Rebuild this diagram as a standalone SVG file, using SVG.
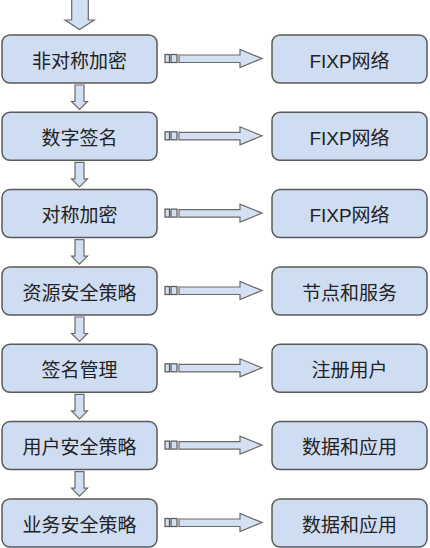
<svg xmlns="http://www.w3.org/2000/svg" width="430" height="548" viewBox="0 0 430 548">
<defs>
<style>
.box{fill:#cfddf2;stroke:#5a5a5a;stroke-width:1.5}
.arr{fill:#d3e0f3;stroke:#6a6a6a;stroke-width:1.2}
.sq{fill:#d3e0f3;stroke:#555;stroke-width:1.2}
text{font-family:"Liberation Sans","Noto Sans CJK SC",sans-serif;font-size:19px;fill:#222;text-anchor:middle;dominant-baseline:central}
</style>
<g id="harrow">
<rect class="sq" x="165" y="-4.5" width="4.5" height="8"/>
<rect class="sq" x="171" y="-4.5" width="6" height="8"/>
<path class="arr" d="M179,-4 H240 V-9.5 L262,-0.5 L240,8.5 V3.5 H179 Z"/>
</g>
<path id="varrow" class="arr" d="M75,0 H84 V16.5 H87.5 L79.5,24.5 L71.5,16.5 H75 Z"/>
</defs>
<g id="connectors">
<path class="arr" d="M71.7,-1 H88.3 V20 H94.3 L79.5,29.5 L65,20 H71.7 Z"/>
<use href="#varrow" y="85"/>
<use href="#varrow" y="162.3"/>
<use href="#varrow" y="239.6"/>
<use href="#varrow" y="317"/>
<use href="#varrow" y="394.3"/>
<use href="#varrow" y="471.6"/>
<use href="#harrow" y="59"/>
<use href="#harrow" y="136.3"/>
<use href="#harrow" y="213.6"/>
<use href="#harrow" y="291"/>
<use href="#harrow" y="368.3"/>
<use href="#harrow" y="445.6"/>
<use href="#harrow" y="523"/>
</g>
<g id="l1"><rect class="box" x="2" y="35" width="155" height="48" rx="8"/><text x="79.5" y="61">非对称加密</text></g>
<g id="l2"><rect class="box" x="2" y="112.3" width="155" height="48" rx="8"/><text x="79.5" y="138.3">数字签名</text></g>
<g id="l3"><rect class="box" x="2" y="189.6" width="155" height="48" rx="8"/><text x="79.5" y="215.6">对称加密</text></g>
<g id="l4"><rect class="box" x="2" y="267" width="155" height="48" rx="8"/><text x="79.5" y="293">资源安全策略</text></g>
<g id="l5"><rect class="box" x="2" y="344.3" width="155" height="48" rx="8"/><text x="79.5" y="370.3">签名管理</text></g>
<g id="l6"><rect class="box" x="2" y="421.6" width="155" height="48" rx="8"/><text x="79.5" y="447.6">用户安全策略</text></g>
<g id="l7"><rect class="box" x="2" y="499" width="155" height="48" rx="8"/><text x="79.5" y="525">业务安全策略</text></g>
<g id="r1"><rect class="box" x="272" y="35" width="155" height="48" rx="8"/><text x="349.5" y="61">FIXP网络</text></g>
<g id="r2"><rect class="box" x="272" y="112.3" width="155" height="48" rx="8"/><text x="349.5" y="138.3">FIXP网络</text></g>
<g id="r3"><rect class="box" x="272" y="189.6" width="155" height="48" rx="8"/><text x="349.5" y="215.6">FIXP网络</text></g>
<g id="r4"><rect class="box" x="272" y="267" width="155" height="48" rx="8"/><text x="349.5" y="293">节点和服务</text></g>
<g id="r5"><rect class="box" x="272" y="344.3" width="155" height="48" rx="8"/><text x="349.5" y="370.3">注册用户</text></g>
<g id="r6"><rect class="box" x="272" y="421.6" width="155" height="48" rx="8"/><text x="349.5" y="447.6">数据和应用</text></g>
<g id="r7"><rect class="box" x="272" y="499" width="155" height="48" rx="8"/><text x="349.5" y="525">数据和应用</text></g>
</svg>
